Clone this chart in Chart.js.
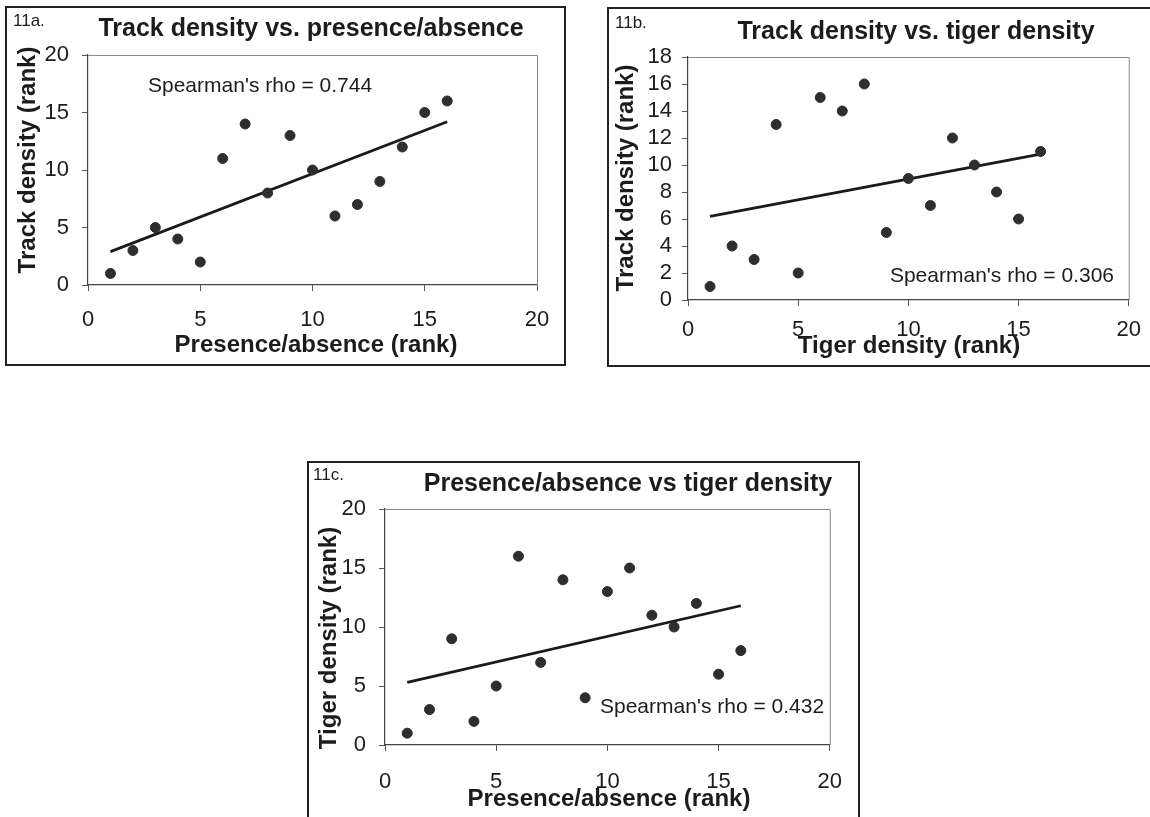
<!DOCTYPE html>
<html><head><meta charset="utf-8">
<script src="https://cdn.jsdelivr.net/npm/chart.js@4.4.0/dist/chart.umd.min.js"></script>
<style>
html,body{margin:0;padding:0;background:#fff;width:1150px;height:817px;overflow:hidden;}
canvas{position:absolute;}
</style></head><body>
<canvas id="ca" width="561" height="360" style="left:5px;top:6px"></canvas>
<canvas id="cb" width="545" height="360" style="left:607px;top:7px"></canvas>
<canvas id="cc" width="553" height="360" style="left:307px;top:461px"></canvas>
<script>
// ---- data (ranks) ----
const ranks = [1,2,3,4,5,6,7,8,9,10,11,12,13,14,15,16];
const trackVsPresence = [1,3,5,4,2,11,14,8,13,10,6,7,9,12,15,16];
const trackVsTiger   = [1,4,3,13,2,15,14,16,5,9,7,12,10,8,6,11];
const tigerVsPresence = [1,3,9,2,5,16,7,14,4,13,15,11,10,12,6,8];
const trendAx = [1,16], trendAy = [2.9,14.2];
const trendBx = [1,16], trendBy = [6.2,10.8];
const trendCx = [1,16], trendCy = [5.3,11.8];
const xTicks = [0,5,10,15,20];
const yTicksA = [0,5,10,15,20];
const yTicksB = [0,2,4,6,8,10,12,14,16,18];
const yTicksC = [0,5,10,15,20];
const titles = ['Track density vs. presence/absence','Track density vs. tiger density','Presence/absence vs tiger density'];
const panelLabels = ['11a.','11b.','11c.'];
const rhoTexts = ["Spearman's rho = 0.744","Spearman's rho = 0.306","Spearman's rho = 0.432"];
const xTitles = ['Presence/absence (rank)','Tiger density (rank)','Presence/absence (rank)'];
const yTitles = ['Track density (rank)','Track density (rank)','Tiger density (rank)'];

const FONT = "'Liberation Sans', Arial, sans-serif";
const INK = '#1c1c1c';

const textPlugin = {
  id: 'panelText',
  beforeDraw(chart) {
    const ctx = chart.ctx;
    ctx.save();
    ctx.fillStyle = '#fff';
    ctx.fillRect(0,0,chart.width,chart.height);
    ctx.strokeStyle = '#222';
    ctx.lineWidth = 2;
    ctx.strokeRect(1,1,chart.width-2,chart.height-2);
    ctx.restore();
  },
  beforeDatasetsDraw(chart) {
    const ctx = chart.ctx, a = chart.chartArea;
    ctx.save();
    ctx.strokeStyle = '#8a8a8a';
    ctx.lineWidth = 1;
    ctx.beginPath();
    ctx.moveTo(a.left, a.top + 0.5);
    ctx.lineTo(a.right + 0.5, a.top + 0.5);
    ctx.lineTo(a.right + 0.5, a.bottom);
    ctx.stroke();
    ctx.restore();
  },
  afterDraw(chart, args, o) {
    const ctx = chart.ctx;
    (o.items || []).forEach(it => {
      ctx.save();
      ctx.fillStyle = INK;
      ctx.font = it.font;
      ctx.textAlign = it.align || 'center';
      ctx.textBaseline = 'middle';
      ctx.translate(it.x, it.y);
      if (it.rot) ctx.rotate(it.rot);
      ctx.fillText(it.text, 0, 0);
      ctx.restore();
    });
  }
};

function makePanel(id, xs, ys, tx, ty, yTicks, L) {
  const pts = xs.map((x,i)=>({x:x, y:ys[i]}));
  const trend = tx.map((x,i)=>({x:x, y:ty[i]}));
  const canvas = document.getElementById(id);
  const W = canvas.width, H = canvas.height;
  const axisCommon = (ticks, pad) => ({
    type: 'linear',
    min: ticks[0], max: ticks[ticks.length-1],
    afterBuildTicks: s => { s.ticks = ticks.map(v => ({value: v})); },
    ticks: { font: {family: FONT, size: 22}, color: INK, padding: pad, autoSkip: false, maxRotation: 0 },
    grid: { display: true, drawOnChartArea: false, drawTicks: true, tickLength: 6, color: '#555', lineWidth: 1 },
    border: { display: true, color: '#444', width: 1.2 }
  });
  const xs_ = axisCommon(xTicks, L.xPad);
  xs_.afterFit = s => { s.height = H - L.bottom; };
  const ys_ = axisCommon(yTicks, L.yPad);
  ys_.afterFit = s => { s.width = L.left; };
  return new Chart(canvas, {
    type: 'scatter',
    data: { datasets: [
      { data: pts, backgroundColor: '#2e2e2e', borderColor: '#2e2e2e', pointRadius: 5, pointHoverRadius: 5, showLine: false, order: 1 },
      { data: trend, showLine: true, borderColor: '#1a1a1a', borderWidth: 2.8, pointRadius: 0, fill: false, order: 2 }
    ]},
    options: {
      responsive: false, animation: false, devicePixelRatio: 1,
      layout: { padding: { top: L.top, right: W - L.right, left: 0, bottom: 0 } },
      plugins: { legend: {display:false}, tooltip: {enabled:false}, title: {display:false},
        panelText: { items: L.items } },
      scales: { x: xs_, y: ys_ }
    },
    plugins: [textPlugin]
  });
}

const fB = s => 'bold ' + s + 'px ' + FONT;
const fR = s => s + 'px ' + FONT;
const ROT = -Math.PI/2;

makePanel('ca', ranks, trackVsPresence, trendAx, trendAy, yTicksA, {
  left: 83, right: 532, top: 49, bottom: 279, xPad: 16, yPad: 13,
  items: [
    {text: panelLabels[0], x: 8, y: 15, font: fR(17), align: 'left'},
    {text: titles[0], x: 306, y: 23, font: fB(25)},
    {text: rhoTexts[0], x: 143, y: 80, font: fR(21), align: 'left'},
    {text: yTitles[0], x: 23, y: 154, font: fB(24), rot: ROT},
    {text: xTitles[0], x: 311, y: 339, font: fB(24)}
  ]
});
makePanel('cb', ranks, trackVsTiger, trendBx, trendBy, yTicksB, {
  left: 81, right: 522, top: 50, bottom: 293, xPad: 11, yPad: 10,
  items: [
    {text: panelLabels[1], x: 8, y: 16, font: fR(17), align: 'left'},
    {text: titles[1], x: 309, y: 25, font: fB(25)},
    {text: rhoTexts[1], x: 507, y: 269, font: fR(21), align: 'right'},
    {text: yTitles[1], x: 19, y: 171, font: fB(24), rot: ROT},
    {text: xTitles[1], x: 302, y: 339, font: fB(24)}
  ]
});
makePanel('cc', ranks, tigerVsPresence, trendCx, trendCy, yTicksC, {
  left: 78, right: 524, top: 48, bottom: 284, xPad: 18, yPad: 13,
  items: [
    {text: panelLabels[2], x: 6, y: 14, font: fR(17), align: 'left'},
    {text: titles[2], x: 321, y: 23, font: fB(25)},
    {text: rhoTexts[2], x: 293, y: 246, font: fR(21), align: 'left'},
    {text: yTitles[2], x: 22, y: 177, font: fB(24), rot: ROT},
    {text: xTitles[2], x: 302, y: 338, font: fB(24)}
  ]
});
</script>
</body></html>
